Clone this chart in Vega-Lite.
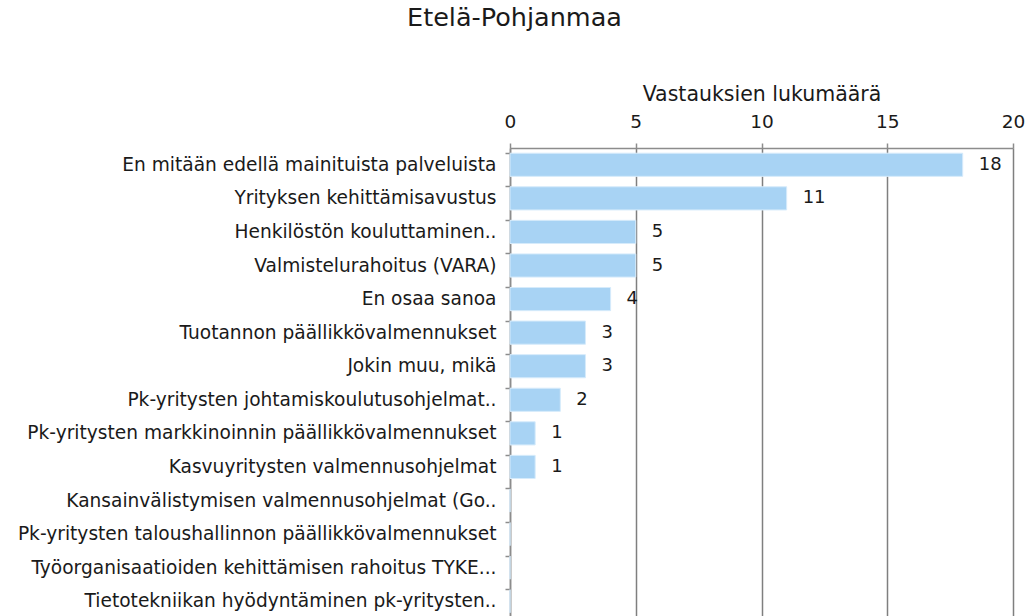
{
  "$schema": "https://vega.github.io/schema/vega-lite/v6.json",
  "autosize": {"type": "none"},
  "padding": {"left": 510, "top": 148, "right": 14, "bottom": 0},
  "width": 503,
  "height": 470,
  "background": "white",
  "title": {
    "text": "Etelä-Pohjanmaa",
    "font": "DejaVu Sans",
    "fontSize": 25.5,
    "fontWeight": "normal",
    "color": "#1a1a1a",
    "anchor": "middle",
    "frame": "group",
    "dx": -247,
    "offset": 53
  },
  "data": {
    "values": [
      {"palvelu": "En mitään edellä mainituista palveluista", "value": 18},
      {"palvelu": "Yrityksen kehittämisavustus", "value": 11},
      {"palvelu": "Henkilöstön kouluttaminen..", "value": 5},
      {"palvelu": "Valmistelurahoitus (VARA)", "value": 5},
      {"palvelu": "En osaa sanoa", "value": 4},
      {"palvelu": "Tuotannon päällikkövalmennukset", "value": 3},
      {"palvelu": "Jokin muu, mikä", "value": 3},
      {"palvelu": "Pk-yritysten johtamiskoulutusohjelmat..", "value": 2},
      {"palvelu": "Pk-yritysten markkinoinnin päällikkövalmennukset", "value": 1},
      {"palvelu": "Kasvuyritysten valmennusohjelmat", "value": 1},
      {"palvelu": "Kansainvälistymisen valmennusohjelmat (Go..", "value": 0},
      {"palvelu": "Pk-yritysten taloushallinnon päällikkövalmennukset", "value": 0},
      {"palvelu": "Työorganisaatioiden kehittämisen rahoitus TYKE...", "value": 0},
      {"palvelu": "Tietotekniikan hyödyntäminen pk-yritysten..", "value": 0}
    ]
  },
  "encoding": {
    "y": {
      "field": "palvelu",
      "type": "nominal",
      "sort": null,
      "scale": {"paddingInner": 0.31, "paddingOuter": 0.155},
      "axis": {
        "title": null,
        "bandPosition": 0,
        "domainColor": "#8c8c8c",
        "domainWidth": 1.5,
        "tickColor": "#8c8c8c",
        "tickSize": 5,
        "tickWidth": 1.5,
        "labelPadding": 9,
        "labelFont": "DejaVu Sans",
        "labelFontSize": 18.6,
        "labelColor": "#1a1a1a",
        "labelLimit": 600,
        "grid": false
      }
    },
    "x": {
      "field": "value",
      "type": "quantitative",
      "scale": {"domain": [0, 20], "nice": false},
      "axis": {
        "orient": "top",
        "title": "Vastauksien lukumäärä",
        "titleFont": "DejaVu Sans",
        "titleFontSize": 20.5,
        "titleFontWeight": "normal",
        "titleColor": "#1a1a1a",
        "titlePadding": 8,
        "values": [0, 5, 10, 15, 20],
        "labelFont": "DejaVu Sans",
        "labelFontSize": 18.5,
        "labelColor": "#1a1a1a",
        "labelPadding": 12,
        "labelFlush": false,
        "tickColor": "#8c8c8c",
        "tickSize": 5,
        "tickWidth": 1.5,
        "domainColor": "#8c8c8c",
        "domainWidth": 1.5,
        "grid": true,
        "gridColor": "#7f7f7f",
        "gridWidth": 1.5
      }
    }
  },
  "layer": [
    {
      "mark": {"type": "bar", "color": "#a8d3f4", "stroke": "#d6ebfb", "strokeWidth": 1}
    },
    {
      "transform": [{"filter": "datum.value > 0"}],
      "mark": {
        "type": "text",
        "align": "left",
        "baseline": "middle",
        "dx": 16,
        "font": "DejaVu Sans",
        "fontSize": 18,
        "color": "#1a1a1a"
      },
      "encoding": {"text": {"field": "value", "type": "quantitative"}}
    }
  ],
  "config": {"view": {"stroke": null}}
}
